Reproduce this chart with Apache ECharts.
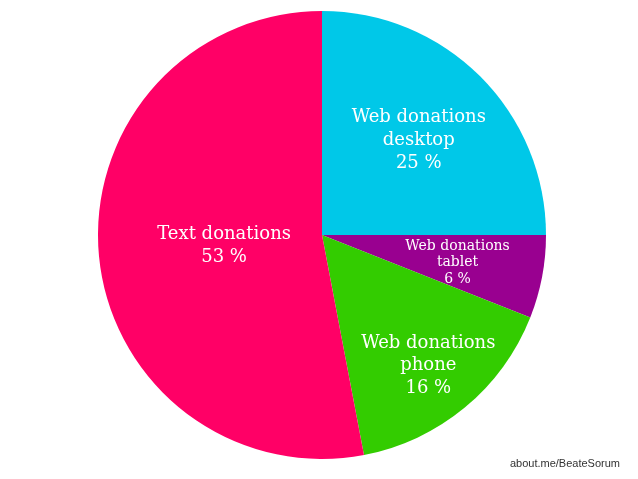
<!DOCTYPE html>
<html>
<head>
<meta charset="utf-8">
<script src="https://cdn.jsdelivr.net/npm/echarts@6/dist/echarts.min.js"></script>
<style>html,body{margin:0;padding:0;background:#fff}#c{width:638px;height:479px}</style>
</head>
<body>
<div id="c"></div>
<script>
const categories = ['Web donations\ndesktop', 'Web donations\ntablet', 'Web donations\nphone', 'Text donations'];
const values = [25, 6, 16, 53];
const colors = ['#00C8E8', '#990090', '#33CC00', '#FF0066'];
const labelSizes = [18, 14, 18, 18];
const labelLineHeights = [23, 16.5, 22.5, 23];
const labelRadiusFactor = [1.19, 1.2, 1.45, 0.855];

const CX = 322, CY = 235;

const chart = echarts.init(document.getElementById('c'), null, {renderer: 'canvas'});
chart.setOption({
  animation: false,
  graphic: [{
    type: 'text', right: 18, bottom: 10,
    style: {text: 'about.me/BeateSorum', fill: '#333', font: '11px "Liberation Sans", Arial, sans-serif'}
  }],
  series: [{
    type: 'pie',
    center: [CX, CY],
    radius: [0, 224],
    startAngle: 90,
    clockwise: true,
    silent: true,
    label: {
      show: true,
      position: 'inside',
      color: '#fff',
      fontFamily: '"DejaVu Serif", Georgia, serif',
      formatter: p => p.name + '\n' + p.value + ' %'
    },
    labelLine: {show: false},
    labelLayout: function (params) {
      const r = params.labelRect;
      const lx = r.x + r.width / 2, ly = r.y + r.height / 2;
      const f = labelRadiusFactor[params.dataIndex];
      return {x: CX + (lx - CX) * f, y: CY + (ly - CY) * f + 2};
    },
    itemStyle: {borderWidth: 0},
    data: categories.map((c, i) => ({
      name: c, value: values[i],
      itemStyle: {color: colors[i]},
      label: {fontSize: labelSizes[i], lineHeight: labelLineHeights[i]}
    }))
  }]
});
</script>
</body>
</html>
